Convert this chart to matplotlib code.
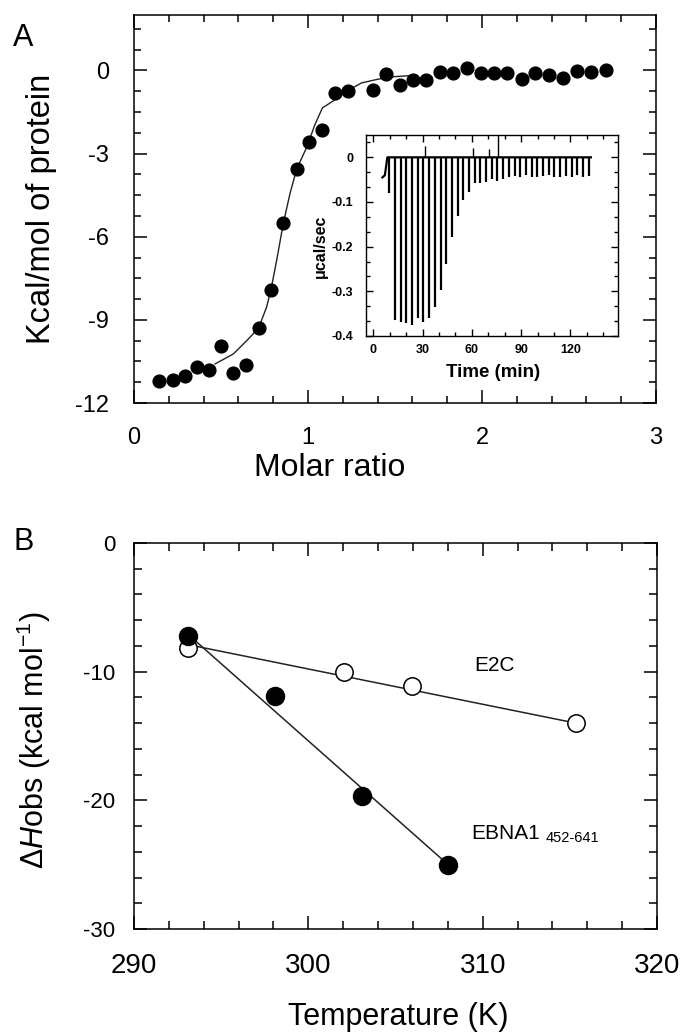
import matplotlib
matplotlib.use('Agg')
import matplotlib.pyplot as plt
from matplotlib.ticker import MultipleLocator

plt.rcParams['font.family'] = ['Liberation Sans', 'DejaVu Sans']
plt.rcParams['axes.unicode_minus'] = False
plt.rcParams['mathtext.fontset'] = 'custom'
plt.rcParams['mathtext.rm'] = 'Liberation Sans'
plt.rcParams['mathtext.it'] = 'Liberation Sans:italic'

# --- panel A: integrated heats ---
molar_ratio = [0.146, 0.222, 0.295, 0.36, 0.43, 0.50, 0.571, 0.644, 0.716, 0.787,
               0.858, 0.935, 1.008, 1.083, 1.153, 1.228, 1.376, 1.45, 1.529, 1.605,
               1.68, 1.759, 1.835, 1.916, 1.992, 2.069, 2.146, 2.228, 2.305, 2.387,
               2.464, 2.548, 2.628, 2.711]
heat = [-11.2, -11.17, -11.03, -10.69, -10.8, -9.93, -10.9, -10.62, -9.3, -7.91,
        -5.52, -3.56, -2.6, -2.14, -0.81, -0.76, -0.71, -0.145, -0.51, -0.36,
        -0.36, -0.06, -0.08, 0.1, -0.08, -0.11, -0.11, -0.3, -0.11, -0.18,
        -0.27, -0.02, -0.06, 0.01]
fit_x = [0.466, 0.571, 0.648, 0.716, 0.762, 0.787, 0.82, 0.858, 0.897, 0.935,
         0.995, 1.04, 1.083, 1.158, 1.23, 1.308, 1.40, 1.483, 1.61]
fit_y = [-10.59, -10.23, -9.75, -9.3, -8.54, -7.91, -6.85, -5.52, -4.43, -3.56,
         -2.74, -1.95, -1.35, -1.05, -0.72, -0.45, -0.32, -0.23, -0.18]

# --- inset: raw thermogram ---
inj_time = [9.7, 13.2, 16.6, 20.1, 23.6, 27.0, 30.5, 34.0, 37.5, 40.9, 44.4, 47.9,
            51.3, 54.8, 58.3, 61.7, 65.2, 68.7, 72.1, 75.6, 79.1, 82.5, 86.0, 89.5,
            92.9, 96.4, 99.9, 103.3, 106.8, 110.3, 113.7, 117.2, 120.7, 124.1, 127.6, 131.1]
inj_peak = [-0.079, -0.364, -0.368, -0.372, -0.375, -0.36, -0.368, -0.36, -0.334, -0.298,
            -0.238, -0.178, -0.132, -0.096, -0.078, -0.058, -0.057, -0.055, -0.049, -0.053,
            -0.049, -0.045, -0.042, -0.045, -0.04, -0.043, -0.045, -0.042, -0.04, -0.045,
            -0.043, -0.042, -0.045, -0.04, -0.043, -0.042]
blip_time = [31.5, 60.5, 70.5, 76.0]
blip_height = [0.025, 0.02, 0.018, 0.05]
trace_t = [5.5, 7.0, 8.5, 132.5]
trace_y = [-0.045, -0.04, 0.0, 0.0]

# --- panel B: dH vs temperature ---
ebna_T = [293.1, 298.06, 303.07, 308.02]
ebna_dH = [-7.26, -11.86, -19.69, -25.04]
ebna_fit_T = [293.1, 308.02]
ebna_fit_dH = [-7.1, -25.0]
e2c_T = [293.1, 302.02, 305.92, 315.35]
e2c_dH = [-8.16, -10.0, -11.09, -14.0]
e2c_fit_T = [293.1, 315.35]
e2c_fit_dH = [-7.9, -14.0]

W, H = 683, 1033
fig = plt.figure(figsize=(W / 100, H / 100), dpi=100)


def frac(left, top, right, bottom):
    return [left / W, 1 - bottom / H, (right - left) / W, (bottom - top) / H]


def style_ticks(ax, major, minor, lw, pad_x, pad_y, size):
    for side in ('top', 'bottom', 'left', 'right'):
        ax.spines[side].set_linewidth(lw)
    ax.tick_params(which='both', direction='in', top=True, right=True, width=lw)
    ax.tick_params(which='major', length=major)
    ax.tick_params(which='minor', length=minor)
    ax.tick_params(axis='x', which='major', pad=pad_x, labelsize=size[0])
    ax.tick_params(axis='y', which='major', pad=pad_y, labelsize=size[1])


# panel A
axA = fig.add_axes(frac(134, 15, 656, 403))
axA.plot(fit_x, fit_y, color='#222222', lw=1.0, zorder=2)
axA.plot(molar_ratio, heat, 'o', color='black', ms=9.2, zorder=3)
axA.set_xlim(0, 3)
axA.set_ylim(-12, 2)
axA.xaxis.set_major_locator(MultipleLocator(1))
axA.xaxis.set_minor_locator(MultipleLocator(0.2))
axA.set_yticks([-12, -9, -6, -3, 0])
axA.yaxis.set_minor_locator(MultipleLocator(0.75))
style_ticks(axA, 9.5, 5, 1.1, 17, 18, (17, 17))
axA.set_xlabel('Molar ratio', fontsize=23)
axA.xaxis.set_label_coords(0.374, -0.128)
axA.set_ylabel('Kcal/mol of protein', fontsize=23.5)
axA.yaxis.set_label_coords(-0.148, 0.5)
fig.text(13 / W, 1 - 23 / H, 'A', fontsize=22, ha='left', va='top')

# inset
axI = fig.add_axes(frac(366, 135, 618, 336))
axI.plot(trace_t, trace_y, color='black', lw=1.6)
axI.vlines(inj_time, inj_peak, 0, color='black', lw=1.6)
axI.vlines(blip_time, 0, blip_height, color='black', lw=1.0)
axI.set_xlim(-4.5, 149)
axI.set_ylim(-0.4, 0.05)
axI.set_xticks([0, 30, 60, 90, 120])
axI.xaxis.set_minor_locator(MultipleLocator(10))
axI.set_yticks([-0.4, -0.3, -0.2, -0.1, 0])
axI.set_yticklabels(['-0.4', '-0.3', '-0.2', '-0.1', '0'])
axI.yaxis.set_minor_locator(MultipleLocator(0.1 / 3))
style_ticks(axI, 5, 3.2, 1.0, 6, 9, (9, 9))
for lab in axI.get_xticklabels() + axI.get_yticklabels():
    lab.set_fontweight('bold')
axI.set_xlabel('Time (min)', fontsize=13.5, fontweight='bold')
axI.xaxis.set_label_coords(0.504, -0.14)
axI.set_ylabel('\u03bccal/sec', fontsize=11.5, fontweight='bold')
axI.yaxis.set_label_coords(-0.15, 0.448)

# panel B
axB = fig.add_axes(frac(134, 543, 657, 929))
axB.plot(e2c_fit_T, e2c_fit_dH, color='#222222', lw=1.1, zorder=2)
axB.plot(ebna_fit_T, ebna_fit_dH, color='#222222', lw=1.1, zorder=2)
axB.plot(e2c_T, e2c_dH, 'o', mfc='white', mec='black', mew=1.1, ms=12.5, zorder=3)
axB.plot(ebna_T, ebna_dH, 'o', color='black', ms=13, zorder=4)
axB.set_xlim(290, 320)
axB.set_ylim(-30, 0)
axB.xaxis.set_major_locator(MultipleLocator(10))
axB.xaxis.set_minor_locator(MultipleLocator(2))
axB.yaxis.set_major_locator(MultipleLocator(10))
axB.yaxis.set_minor_locator(MultipleLocator(2))
style_ticks(axB, 9.5, 5.5, 1.1, 17.5, 13.5, (20, 16))
axB.text(310.69, -9.53, 'E2C', fontsize=15, ha='center', va='center')
t1 = axB.text(309.35, -22.56, 'EBNA1', fontsize=15, ha='left', va='center')
axB.annotate('452-641', xy=(1, 0), xycoords=t1, xytext=(4, -1.5),
             textcoords='offset points', fontsize=10.5, ha='left', va='bottom')
axB.set_xlabel('Temperature (K)', fontsize=22)
axB.xaxis.set_label_coords(0.505, -0.19)
axB.set_ylabel(r'$\Delta\mathit{H}$obs (kcal mol$^{-1}$)', fontsize=22)
axB.yaxis.set_label_coords(-0.155, 0.49)
fig.text(13 / W, 1 - 527 / H, 'B', fontsize=22, ha='left', va='top')

fig.savefig('out.png', dpi=100)
